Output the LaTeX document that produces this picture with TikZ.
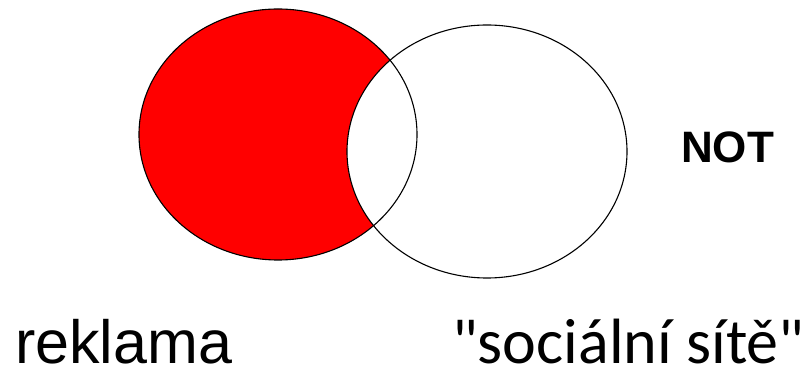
\documentclass[tikz,border=0pt]{standalone}
\usepackage{fontspec}
\setmainfont{Liberation Sans}
\newfontfamily\calibri{Carlito}
\begin{document}
\begin{tikzpicture}[x=1pt,y=1pt,
  outline/.style={draw=black,line width=1.1pt},
  lbl/.style={inner sep=0pt,anchor=base west}]
\useasboundingbox (0,0) rectangle (806,369);
\fill[white] (0,0) rectangle (806,369);
\coordinate (ca) at (278,234.5);
\coordinate (cb) at (487,217.5);
\fill[red] (ca) ellipse [x radius=139pt, y radius=125.5pt];
\fill[white] (cb) ellipse [x radius=140pt, y radius=126.5pt];
\path[outline] (ca) ellipse [x radius=139pt, y radius=125.5pt];
\path[outline] (cb) ellipse [x radius=140pt, y radius=126.5pt];
\node[lbl] (not) at (681,206) {\fontsize{44}{50}\selectfont\bfseries NOT};
\node[lbl] (rek) at (15,5) {\fontsize{61}{70}\selectfont reklama};
\node[lbl] (soc) at (452,5) {\calibri\fontsize{64}{70}\selectfont "sociální sítě"};
\end{tikzpicture}
\end{document}
